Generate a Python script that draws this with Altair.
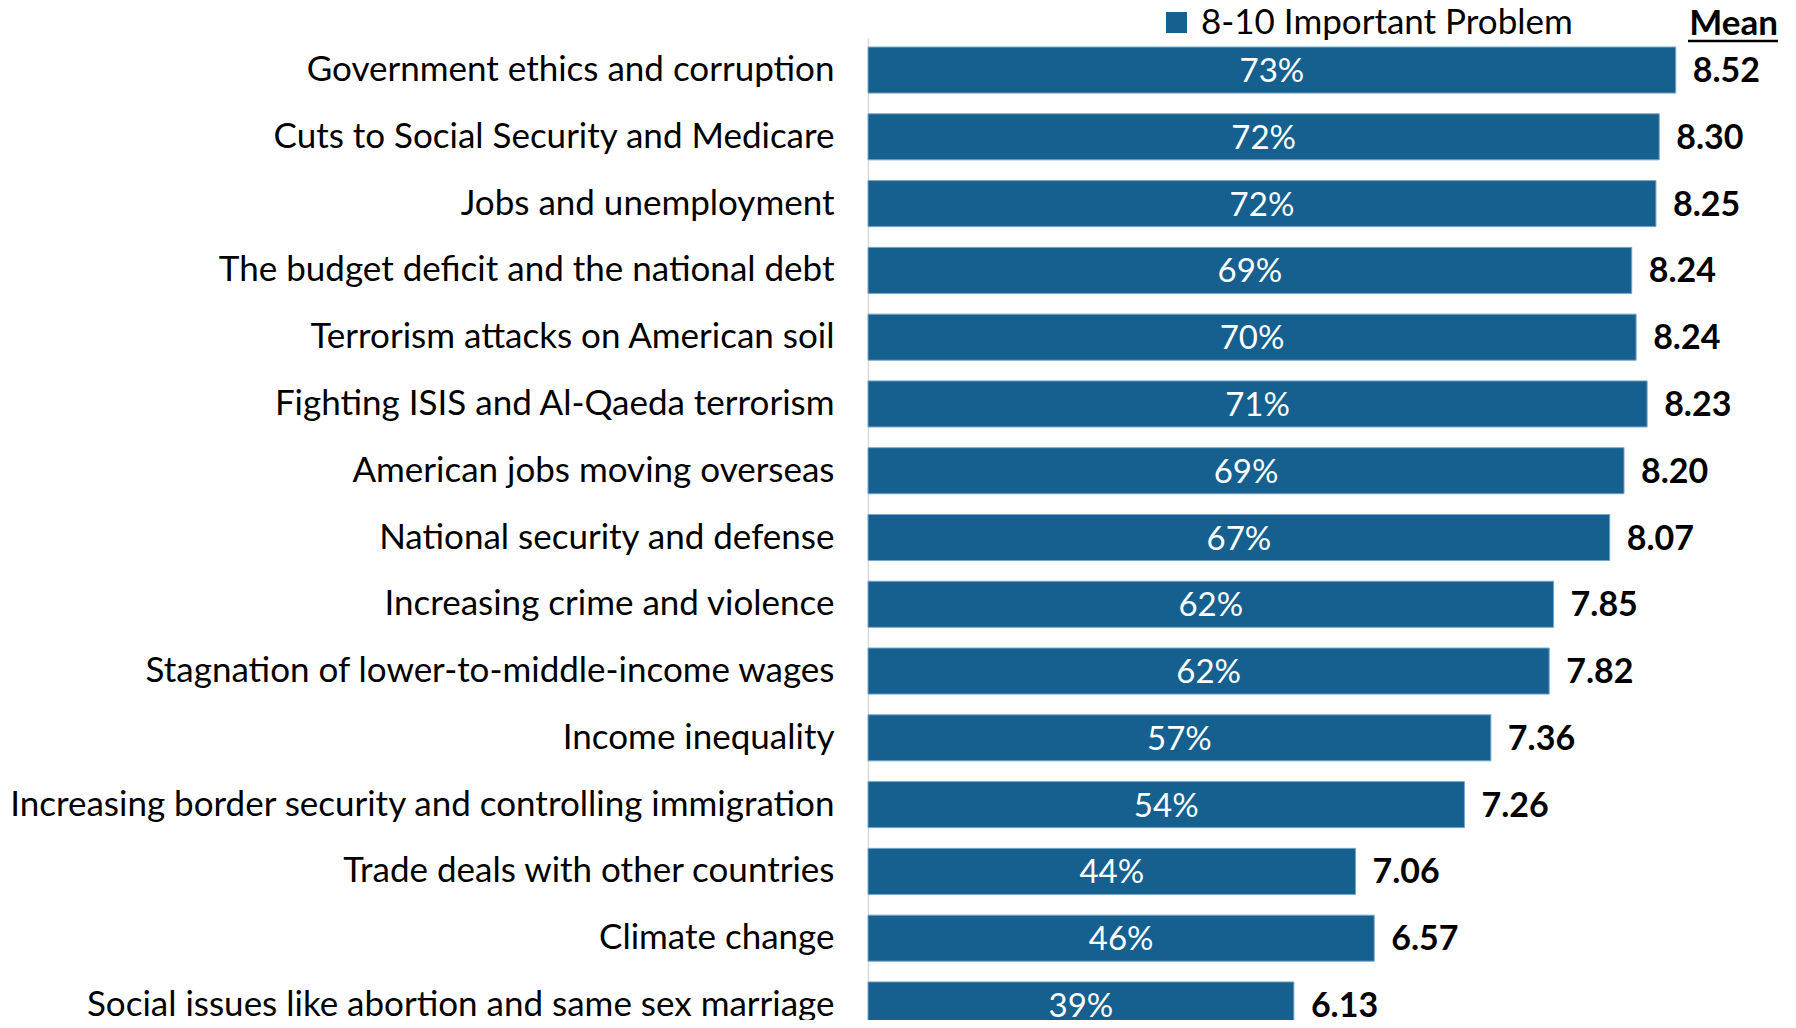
import altair as alt
import pandas as pd

issues = [
    "Government ethics and corruption\u00a0\u00a0",
    "Cuts to Social Security and Medicare",
    "Jobs and unemployment\u00a0\u00a0",
    "The budget deficit and the national debt",
    "Terrorism attacks on American soil",
    "Fighting ISIS and Al-Qaeda terrorism",
    "American jobs moving overseas",
    "National security and defense",
    "Increasing crime and violence",
    "Stagnation of lower-to-middle-income wages",
    "Income inequality",
    "Increasing border security and controlling immigration",
    "Trade deals with other countries",
    "Climate change",
    "Social issues like abortion and same sex marriage",
]
pct_values = [73.4, 71.9, 71.6, 69.4, 69.8, 70.8, 68.7, 67.4, 62.3, 61.9, 56.6, 54.2, 44.3, 46.0, 38.7]
pct_labels = ["73%", "72%", "72%", "69%", "70%", "71%", "69%", "67%", "62%", "62%", "57%", "54%", "44%", "46%", "39%"]
means = ["8.52", "8.30", "8.25", "8.24", "8.24", "8.23", "8.20", "8.07", "7.85", "7.82", "7.36", "7.26", "7.06", "6.57", "6.13"]
series_name = "8-10 Important Problem"

FONT = "Lato"
FS = 35
BAR = "#15608f"

df = pd.DataFrame({
    "issue": issues,
    "pct": pct_values,
    "label": pct_labels,
    "mean": means,
    "series": [series_name] * len(issues),
})

y_enc = alt.Y(
    "issue:N",
    sort=issues,
    scale=alt.Scale(range=[0, 999], paddingInner=0.31, paddingOuter=0.135),
    axis=alt.Axis(
        title=None, ticks=False, grid=False,
        domain=True, domainColor="#d9d9d9", domainWidth=1.5,
        labelFont=FONT, labelFontSize=FS, labelColor="#000000",
        labelPadding=34, labelLimit=2000,
    ),
)
x_scale = alt.Scale(domain=[0, 83.6], nice=False, zero=True)

base = alt.Chart(df)

bars = base.mark_bar(stroke="#7aa6cc", strokeWidth=1).encode(
    y=y_enc,
    x=alt.X("pct:Q", scale=x_scale, axis=None),
    color=alt.Color(
        "series:N",
        scale=alt.Scale(range=[BAR]),
        legend=alt.Legend(
            title=None, orient="none", legendX=291, legendY=-33,
            symbolType="square", symbolSize=440, symbolStrokeWidth=0,
            labelFont=FONT, labelFontSize=FS, labelColor="#000000",
            labelOffset=7, padding=0, labelLimit=2000,
        ),
    ),
)

pct_text = base.transform_calculate(mid="datum.pct / 2").mark_text(
    font=FONT, fontSize=33, color="white", align="center", baseline="middle", dy=2
).encode(
    y=alt.Y("issue:N", sort=issues),
    x=alt.X("mid:Q", scale=x_scale),
    text="label:N",
)

mean_text = base.mark_text(
    font=FONT, fontSize=34, fontWeight="bold", color="black",
    align="left", baseline="middle", dx=17, dy=2,
).encode(
    y=alt.Y("issue:N", sort=issues),
    x=alt.X("pct:Q", scale=x_scale),
    text="mean:N",
)

head_df = pd.DataFrame({"t": ["Mean"]})
mean_head = alt.Chart(head_df).mark_text(
    font=FONT, fontSize=35, fontWeight="bold", color="black",
    align="right", baseline="middle",
).encode(text="t:N", x=alt.value(910), y=alt.value(-14))

mean_line = alt.Chart(head_df).mark_rule(color="black", strokeWidth=2.5).encode(
    x=alt.value(820), x2=alt.value(910), y=alt.value(3)
)

chart = alt.layer(bars, pct_text, mean_text, mean_head, mean_line).properties(
    width=920,
    height=982,
    autosize=alt.AutoSizeParams(type="none"),
    padding={"left": 860, "top": 30, "right": 0, "bottom": 0},
).configure_view(stroke=None)

chart.save("out.html", embed_options={"renderer": "svg", "actions": False})
